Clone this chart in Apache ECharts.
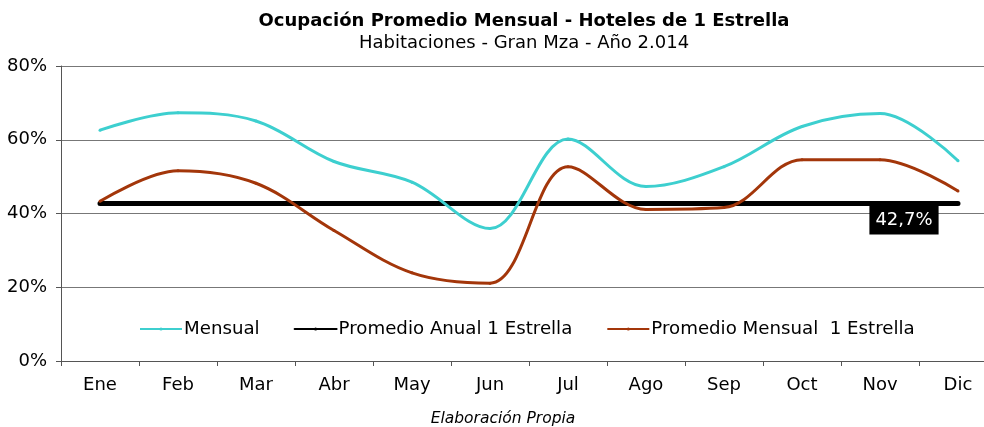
<!DOCTYPE html>
<html>
<head>
<meta charset="utf-8">
<script src="https://cdn.jsdelivr.net/npm/echarts@6/dist/echarts.min.js"></script>
<style>
  html, body { margin: 0; padding: 0; background: #fff; }
  #chart { width: 984px; height: 427px; }
</style>
</head>
<body>
<div id="chart"></div>
<script>
// datos
const meses = ['Ene', 'Feb', 'Mar', 'Abr', 'May', 'Jun', 'Jul', 'Ago', 'Sep', 'Oct', 'Nov', 'Dic'];
const mensual = [62.6, 67.3, 65.1, 54.1, 48.5, 35.9, 60.2, 47.3, 52.7, 63.6, 67.1, 54.3];
const promedioMensual = [43.3, 51.6, 48.2, 35.4, 23.9, 21.1, 52.7, 41.1, 41.6, 54.6, 54.6, 46.1];
const promedioAnual = 42.7;
const anual = meses.map(() => promedioAnual);

const cian = '#3dcfcf';
const marron = '#a3360a';
const fuente = 'DejaVu Sans';

let myChart = echarts.init(document.getElementById('chart'));

myChart.setOption({
    animation: false,
    textStyle: { fontFamily: fuente },
    title: [
        {
            text: 'Ocupación Promedio Mensual - Hoteles de 1 Estrella',
            subtext: 'Habitaciones - Gran Mza - Año 2.014',
            left: 519,
            textAlign: 'center',
            top: 7,
            itemGap: 4,
            textStyle: { fontSize: 18, fontWeight: 'bold', color: '#000', fontFamily: fuente },
            subtextStyle: { fontSize: 18, color: '#000', fontFamily: fuente }
        },
        {
            text: 'Elaboración Propia',
            left: 498,
            textAlign: 'center',
            top: 406,
            textStyle: { fontSize: 15.5, fontStyle: 'italic', fontWeight: 'normal', color: '#000', fontFamily: fuente }
        }
    ],
    legend: {
        top: 315,
        left: 134,
        itemWidth: 42,
        itemHeight: 4,
        itemGap: 34,
        textStyle: { fontSize: 18.2, color: '#000', fontFamily: fuente, padding: [0, 0, 0, -3] },
        data: ['Mensual', 'Promedio Anual 1 Estrella', 'Promedio Mensual  1 Estrella']
    },
    grid: {
        left: 61,
        width: 936,
        top: 66,
        bottom: 66,
        outerBoundsMode: 'none'
    },
    xAxis: {
        type: 'category',
        data: meses,
        boundaryGap: true,
        axisLine: { lineStyle: { color: '#555', width: 1 } },
        axisTick: { show: true, length: 5, lineStyle: { color: '#555' } },
        axisLabel: { fontSize: 18, color: '#000', margin: 15, fontFamily: fuente }
    },
    yAxis: {
        type: 'value',
        min: 0,
        max: 80,
        interval: 20,
        axisLine: { show: true, lineStyle: { color: '#555', width: 1 } },
        axisTick: { show: true, length: 5, lineStyle: { color: '#555' } },
        axisLabel: { formatter: '{value}%', fontSize: 18, color: '#000', margin: 14, fontFamily: fuente },
        splitLine: { lineStyle: { color: '#777', width: 1 } }
    },
    series: [
        {
            name: 'Mensual',
            type: 'line',
            data: mensual,
            smooth: 0.35,
            symbol: 'circle',
            symbolSize: 3,
            itemStyle: { color: cian },
            lineStyle: { color: cian, width: 3 },
            z: 3
        },
        {
            name: 'Promedio Anual 1 Estrella',
            type: 'line',
            data: anual,
            symbol: 'none',
            itemStyle: { color: '#000' },
            lineStyle: { color: '#000', width: 5, cap: 'round' },
            z: 2,
            markPoint: {
                symbol: 'rect',
                symbolSize: 0,
                data: [{ coord: [10, promedioAnual], value: '42,7%' }],
                label: {
                    show: true,
                    formatter: '42,7%',
                    position: 'bottom',
                    offset: [24, 2],
                    distance: 0,
                    backgroundColor: '#000',
                    color: '#fff',
                    fontSize: 18,
                    padding: [6, 6, 5, 6],
                    fontFamily: fuente
                }
            }
        },
        {
            name: 'Promedio Mensual  1 Estrella',
            type: 'line',
            data: promedioMensual,
            smooth: 0.35,
            symbol: 'circle',
            symbolSize: 3,
            itemStyle: { color: marron },
            lineStyle: { color: marron, width: 3 },
            z: 4
        }
    ]
});
</script>
</body>
</html>
